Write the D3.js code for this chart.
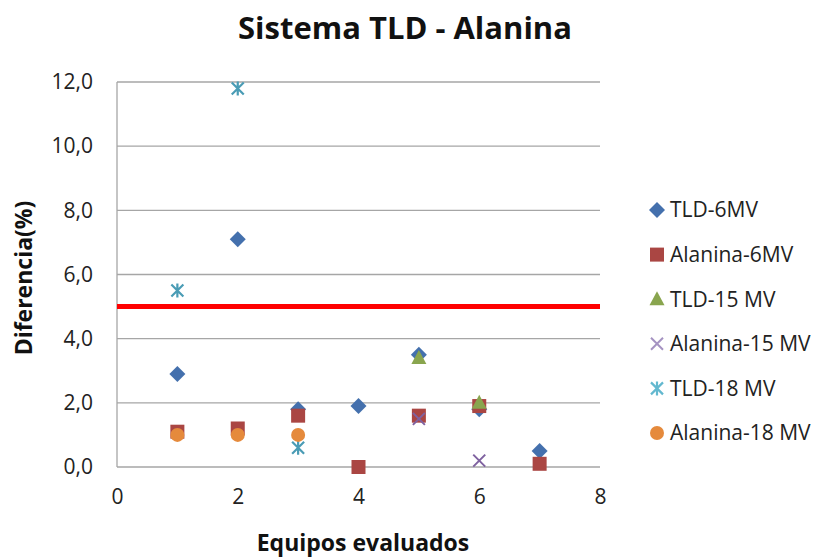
<!DOCTYPE html>
<html><head><meta charset="utf-8">
<script src="https://cdn.jsdelivr.net/npm/d3@7"></script>
<style>body{margin:0;background:#fff;} svg{display:block;font-family:"Open Sans",sans-serif;}</style>
</head><body><svg id="c" width="816" height="557"></svg>
<script>
const title = "Sistema TLD - Alanina";
const xLabel = "Equipos evaluados";
const yLabel = "Diferencia(%)";
const xTicks = [0, 2, 4, 6, 8];
const yTicks = [0, 2, 4, 6, 8, 10, 12];
const threshold = 5.0;
const seriesNames = ["TLD-6MV", "Alanina-6MV", "TLD-15 MV", "Alanina-15 MV", "TLD-18 MV", "Alanina-18 MV"];
const tld6 = [[1, 2.9], [2, 7.1], [3, 1.8], [4, 1.9], [5, 3.5], [6, 1.8], [7, 0.5]];
const ala6 = [[1, 1.1], [2, 1.2], [3, 1.6], [4, 0.0], [5, 1.6], [6, 1.9], [7, 0.1]];
const tld15 = [[5, 3.4], [6, 2.0]];
const ala15 = [[5, 1.5], [6, 0.2]];
const tld18 = [[1, 5.5], [2, 11.8], [3, 0.6]];
const ala18 = [[1, 1.0], [2, 1.0], [3, 1.0]];
const colors = ["#4470AD", "#AA4643", "#89A54E", "#7F62A0", "#4A9CB5", "#E58A3C"];
const shapes = ["diamond", "square", "triangle", "x", "star", "circle"];
const allSeries = [tld6, ala6, tld15, ala15, tld18, ala18];

const svg = d3.select("#c");
const m = {left: 117, right: 600, top: 82, bottom: 467};
const x = d3.scaleLinear().domain([0, 8]).range([m.left, m.right]);
const y = d3.scaleLinear().domain([0, 12]).range([m.bottom, m.top]);

// gridlines
svg.append("g").selectAll("line").data(yTicks).join("line")
  .attr("x1", m.left).attr("x2", m.right)
  .attr("y1", d => y(d)).attr("y2", d => y(d))
  .attr("stroke", "#A6A6A6").attr("stroke-width", 1.3);
svg.append("line").attr("x1", m.left).attr("x2", m.left).attr("y1", m.top).attr("y2", m.bottom)
  .attr("stroke", "#A6A6A6").attr("stroke-width", 1.3);

// axes tick labels via d3 axes
const fmt = d => d3.format(".1f")(d).replace(".", ",");
const ya = svg.append("g").attr("transform", `translate(${m.left},0)`)
  .call(d3.axisLeft(y).tickValues(yTicks).tickFormat(fmt).tickSize(0).tickPadding(24));
const xa = svg.append("g").attr("transform", `translate(0,${m.bottom})`)
  .call(d3.axisBottom(x).tickValues(xTicks).tickFormat(d3.format("d")).tickSize(0).tickPadding(22));
[ya, xa].forEach(a => {
  a.select(".domain").remove();
  a.selectAll("text").attr("font-size", 21).attr("fill", "#222").attr("font-family", '"Open Sans",sans-serif');
});

// threshold line
svg.append("line").attr("x1", m.left).attr("x2", m.right)
  .attr("y1", y(threshold)).attr("y2", y(threshold))
  .attr("stroke", "#FF0000").attr("stroke-width", 5);

function drawMarker(g, shape, color, cx, cy) {
  if (shape === "diamond") {
    g.append("path").attr("d", `M${cx},${cy - 8}L${cx + 8},${cy}L${cx},${cy + 8}L${cx - 8},${cy}Z`).attr("fill", color);
  } else if (shape === "square") {
    g.append("rect").attr("x", cx - 7).attr("y", cy - 7).attr("width", 14).attr("height", 14).attr("fill", color);
  } else if (shape === "triangle") {
    g.append("path").attr("d", `M${cx},${cy - 8}L${cx + 7.5},${cy + 6}L${cx - 7.5},${cy + 6}Z`).attr("fill", color);
  } else if (shape === "x") {
    g.append("path").attr("d", `M${cx - 6},${cy - 6}L${cx + 6},${cy + 6}M${cx - 6},${cy + 6}L${cx + 6},${cy - 6}`)
      .attr("stroke", color).attr("stroke-width", 2).attr("fill", "none");
  } else if (shape === "star") {
    g.append("path").attr("d", `M${cx - 6},${cy - 6}L${cx + 6},${cy + 6}M${cx - 6},${cy + 6}L${cx + 6},${cy - 6}M${cx},${cy - 7}L${cx},${cy + 7}`)
      .attr("stroke", color).attr("stroke-width", 2.2).attr("fill", "none");
  } else if (shape === "circle") {
    g.append("circle").attr("cx", cx).attr("cy", cy).attr("r", 7).attr("fill", color);
  }
}

// series
allSeries.forEach((data, i) => {
  const g = svg.append("g");
  data.forEach(d => drawMarker(g, shapes[i], colors[i], x(d[0]), y(d[1])));
});

// legend
const lg = svg.append("g");
seriesNames.forEach((n, i) => {
  const ly = 210 + i * 44.6;
  const lc = shapes[i] === "x" ? "#A593C2" : shapes[i] === "star" ? "#63B8CF" : colors[i];
  drawMarker(lg, shapes[i], lc, 657, ly);
  lg.append("text").attr("x", 670).attr("y", ly).attr("dy", "0.35em")
    .attr("font-size", 21).attr("fill", "#222").text(n);
});

// titles
svg.append("text").attr("x", 405).attr("y", 28).attr("dy", "0.35em").attr("text-anchor", "middle")
  .attr("font-size", 31).attr("font-weight", "bold").attr("fill", "#111").text(title);
svg.append("text").attr("x", 363).attr("y", 543).attr("dy", "0.35em").attr("text-anchor", "middle")
  .attr("font-size", 23).attr("font-weight", "bold").attr("fill", "#111").text(xLabel);
svg.append("text").attr("transform", `translate(24,278) rotate(-90)`).attr("dy", "0.35em").attr("text-anchor", "middle")
  .attr("font-size", 23).attr("font-weight", "bold").attr("fill", "#111").text(yLabel);
</script></body></html>
